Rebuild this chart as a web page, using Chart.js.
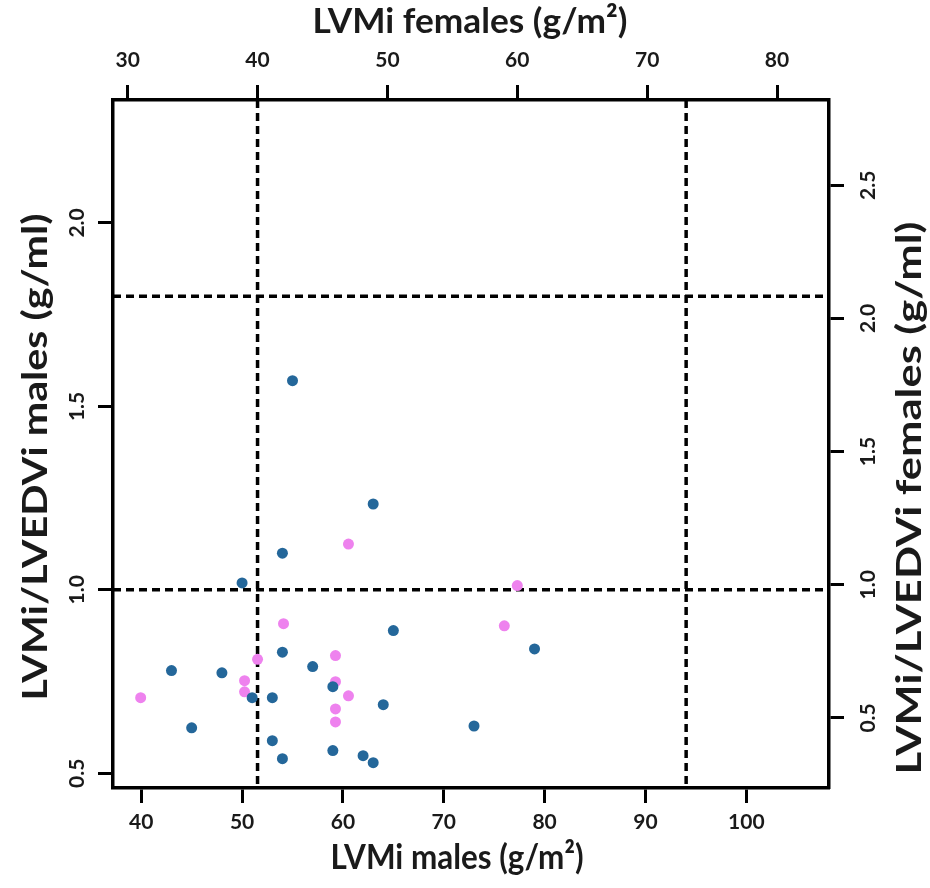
<!DOCTYPE html>
<html>
<head>
<meta charset="utf-8">
<script src="https://cdn.jsdelivr.net/npm/chart.js@4.4.1/dist/chart.umd.min.js"></script>
<style>
  body { margin: 0; background: #fff; }
  #wrap { width: 930px; height: 888px; }
</style>
</head>
<body>
<div id="wrap"><canvas id="grafico"></canvas></div>
<script>
// males (blue) : LVMi (g/m2) on bottom axis, LVMi/LVEDVi on left axis
const malesX = [55, 63, 54, 50, 65, 79, 54, 43, 48, 57, 59, 51, 53, 64, 45, 73, 53, 59, 54, 62, 63];
const malesY = [1.57, 1.234, 1.10, 1.019, 0.889, 0.839, 0.83, 0.78, 0.774, 0.791, 0.736, 0.706, 0.706, 0.687, 0.624, 0.629, 0.589, 0.562, 0.54, 0.548, 0.529];

// females (pink) : LVMi on top axis, LVMi/LVEDVi on right axis
const femalesX = [47, 60, 42, 59, 46, 40, 39, 46, 39, 47, 46, 46, 31];
const femalesY = [1.153, 0.997, 0.854, 0.846, 0.734, 0.72, 0.64, 0.636, 0.598, 0.583, 0.534, 0.485, 0.576];

// tick labels
const ticksMalesX = [40, 50, 60, 70, 80, 90, 100];
const ticksFemalesX = [30, 40, 50, 60, 70, 80];
const ticksMalesY = [0.5, 1.0, 1.5, 2.0];
const ticksFemalesY = [0.5, 1.0, 1.5, 2.0, 2.5];

// cut-off lines
const cutFemalesX = [40, 73];
const cutMalesY = [1.0, 1.8];

const FONT = "Lato, 'Open Sans', sans-serif";

function fixTicks(lista) {
  return function (scale) {
    scale.ticks = lista.map(v => ({ value: v }));
  };
}

function eixo(pos, min, max, lista, extra) {
  return Object.assign({
    type: "linear",
    position: pos,
    min: min,
    max: max,
    afterBuildTicks: fixTicks(lista),
    grid: {
      drawOnChartArea: false,
      drawTicks: true,
      tickLength: 15,
      tickWidth: 3,
      tickColor: "#000",
    },
    border: { display: true, color: "#000", width: 3.5 },
  }, extra);
}

// texto centrado, girado e apertado para caber na largura
function texto(ctx, str, x, y, rot, size, largura) {
  ctx.save();
  ctx.font = "bold " + size + "px " + FONT;
  ctx.translate(x, y);
  ctx.rotate(rot);
  const w = ctx.measureText(str).width;
  if (largura) ctx.scale(largura / w, 1);
  ctx.fillText(str, 0, 0);
  ctx.restore();
}

/* linhas tracejadas + textos girados */
const desenhos = {
  id: "desenhos",
  beforeDatasetsDraw(chart) {
    const { ctx, chartArea: a, scales } = chart;
    ctx.save();
    ctx.strokeStyle = "#000";
    ctx.lineWidth = 3.5;
    ctx.setLineDash([8, 5]);
    cutFemalesX.forEach(v => {
      const x = scales.xf.getPixelForValue(v);
      ctx.beginPath();
      ctx.moveTo(x, a.top);
      ctx.lineTo(x, a.bottom);
      ctx.stroke();
    });
    cutMalesY.forEach(v => {
      const y = scales.ym.getPixelForValue(v);
      ctx.beginPath();
      ctx.moveTo(a.left, y);
      ctx.lineTo(a.right, y);
      ctx.stroke();
    });
    ctx.restore();
  },
  afterDraw(chart) {
    const { ctx, chartArea: a, scales } = chart;
    ctx.save();
    ctx.fillStyle = "#1a1a1a";
    ctx.textAlign = "center";
    ctx.textBaseline = "middle";

    // y tick labels, rotated
    ticksMalesY.forEach(v => {
      texto(ctx, v.toFixed(1), a.left - 36, scales.ym.getPixelForValue(v), -Math.PI / 2, 21);
    });
    ticksFemalesY.forEach(v => {
      texto(ctx, v.toFixed(1), a.right + 39, scales.yf.getPixelForValue(v), -Math.PI / 2, 21);
    });

    // titulos
    texto(ctx, "LVMi males (g/m²)", 457, 858, 0, 35, 253);
    texto(ctx, "LVMi females (g/m²)", 470, 22, 0, 35, 315);
    texto(ctx, "LVMi/LVEDVi males (g/ml)", 36, 457, -Math.PI / 2, 35, 487);
    texto(ctx, "LVMi/LVEDVi females (g/ml)", 910, 498, -Math.PI / 2, 35, 553);
    ctx.restore();
  },
};

const ctx = document.getElementById("grafico");

new Chart(ctx, {
  type: "scatter",
  data: {
    datasets: [
      {
        label: "males",
        data: malesX.map((x, i) => ({ x: x, y: malesY[i] })),
        xAxisID: "xm",
        yAxisID: "ym",
        backgroundColor: "#24679a",
        borderWidth: 0,
        pointRadius: 5.5,
      },
      {
        label: "females",
        data: femalesX.map((x, i) => ({ x: x, y: femalesY[i] })),
        xAxisID: "xf",
        yAxisID: "yf",
        backgroundColor: "#ee82ee",
        borderWidth: 0,
        pointRadius: 5.5,
      },
    ],
  },
  options: {
    responsive: true,
    maintainAspectRatio: false,
    animation: false,
    layout: { padding: 0 },
    plugins: {
      legend: { display: false },
      tooltip: { enabled: false },
    },
    scales: {
      xm: eixo("bottom", 37.2, 108.2, ticksMalesX, {
        afterFit: s => { s.height = 100; },
        ticks: { color: "#1a1a1a", padding: 7, font: { family: FONT, size: 21, weight: "bold" } },
      }),
      xf: eixo("top", 28.87, 84, ticksFemalesX, {
        afterFit: s => { s.height = 100; },
        ticks: { color: "#1a1a1a", padding: 12, font: { family: FONT, size: 21, weight: "bold" } },
      }),
      ym: eixo("left", 0.46, 2.335, ticksMalesY, {
        afterFit: s => { s.width = 113; },
        ticks: { display: false },
      }),
      yf: eixo("right", 0.237, 2.82, ticksFemalesY, {
        afterFit: s => { s.width = 101; },
        ticks: { display: false },
      }),
    },
  },
  plugins: [desenhos],
});
</script>
</body>
</html>
